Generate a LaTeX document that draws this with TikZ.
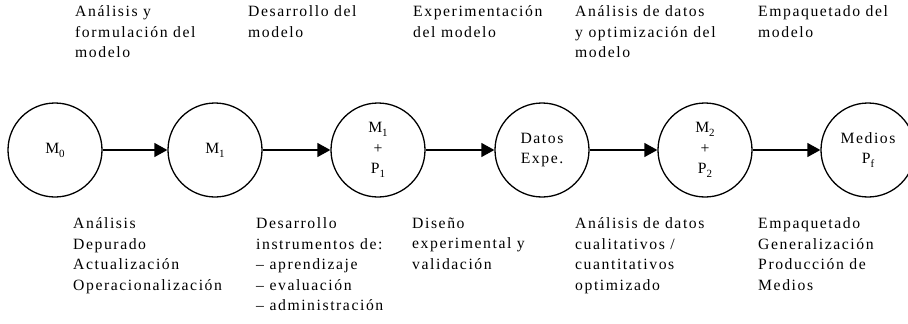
\documentclass[tikz,border=0pt]{standalone}
\usepackage{fontspec}
\setmainfont{Liberation Serif}[LetterSpace=10]
\usepackage{tikz}
\usetikzlibrary{arrows.meta}

\newcommand\subind[1]{\raisebox{-4pt}{\fontsize{11}{11}\selectfont #1}}

\tikzset{
  estado/.style={circle, draw, line width=1.3pt, minimum size=94pt, inner sep=0pt, align=center},
  etiqueta/.style={anchor=north west, align=left, inner sep=0pt, execute at begin node=\strut},
  flecha/.style={-{Triangle[length=13pt,width=14pt]}, line width=1.3pt}
}

\begin{document}
\begin{tikzpicture}[x=1pt, y=-1pt, font=\fontsize{15.7}{20.5}\selectfont]
    \useasboundingbox (0, 0) rectangle (908, 324);
    \clip (0, 0) rectangle (908, 324);

    % estados del proceso
    \node [estado] (m0) at (55, 150) {M\subind{0}};
    \node [estado] (m1) at (215, 150) {M\subind{1}};
    \node [estado] (mp1) at (378, 150) {M\subind{1}\\+\\P\subind{1}};
    \node [estado] (datos) at (542, 150) {Datos\\Expe.};
    \node [estado] (mp2) at (705, 150) {M\subind{2}\\+\\P\subind{2}};
    \node [estado] (medios) at (868, 150) {Medios\\P\subind{f}};

    \draw [flecha] (m0) -- (m1);
    \draw [flecha] (m1) -- (mp1);
    \draw [flecha] (mp1) -- (datos);
    \draw [flecha] (datos) -- (mp2);
    \draw [flecha] (mp2) -- (medios);

    % fases (arriba)
    \node [etiqueta] (f1) at (75, 5.6) {Análisis y\\formulación del\\modelo};
    \node [etiqueta] (f2) at (248, 5.6) {Desarrollo del\\modelo};
    \node [etiqueta] (f3) at (413, 5.6) {Experimentación\\del modelo};
    \node [etiqueta] (f4) at (575, 5.6) {Análisis de datos\\y optimización del\\modelo};
    \node [etiqueta] (f5) at (758, 5.6) {Empaquetado del\\modelo};

    % tareas (abajo)
    \node [etiqueta] (t1) at (73, 217.6) {Análisis\\Depurado\\Actualización\\Operacionalización};
    \node [etiqueta] (t2) at (256, 217.6) {Desarrollo\\instrumentos de:\\-- aprendizaje\\-- evaluación\\-- administración};
    \node [etiqueta] (t3) at (412, 217.6) {Diseño\\experimental y\\validación};
    \node [etiqueta] (t4) at (575, 217.6) {Análisis de datos\\cualitativos /\\cuantitativos\\optimizado};
    \node [etiqueta] (t5) at (758, 217.6) {Empaquetado\\Generalización\\Producción de\\Medios};
\end{tikzpicture}
\end{document}
